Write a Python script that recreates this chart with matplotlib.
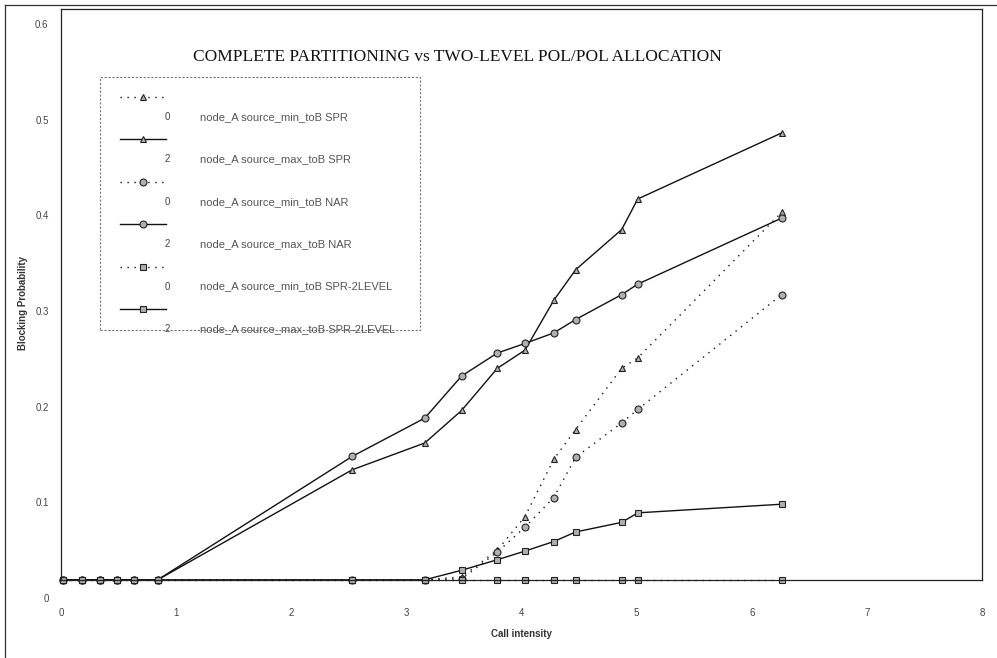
import matplotlib
matplotlib.use("Agg")
import matplotlib.pyplot as plt
from matplotlib.lines import Line2D
from matplotlib.patches import Rectangle

# ---------------- data ----------------
call_intensity = [0.02, 0.18, 0.34, 0.49, 0.63, 0.84, 2.53, 3.16, 3.48, 3.79,
                  4.03, 4.28, 4.47, 4.87, 5.01, 6.26]
B = 0.019  # floor value shown on the bottom axis line
spr_min = [B] * 8 + [0.022, 0.050, 0.085, 0.145, 0.176, 0.240, 0.251, 0.403]
spr_max = [B] * 6 + [0.134, 0.162, 0.196, 0.240, 0.259, 0.311, 0.343, 0.385, 0.417, 0.486]
nar_min = [B] * 8 + [0.020, 0.048, 0.074, 0.105, 0.147, 0.183, 0.197, 0.317]
nar_max = [B] * 6 + [0.148, 0.188, 0.232, 0.256, 0.266, 0.277, 0.291, 0.317, 0.328, 0.397]
lvl_min = [B] * 16
lvl_max = [B] * 8 + [0.029, 0.040, 0.049, 0.059, 0.069, 0.079, 0.089, 0.098]

legend_nums = ["0", "2", "0", "2", "0", "2"]
legend_labels = ["node_A source_min_toB SPR", "node_A source_max_toB SPR",
                 "node_A source_min_toB NAR", "node_A source_max_toB NAR",
                 "node_A source_min_toB SPR-2LEVEL", "node_A source_max_toB SPR-2LEVEL"]
x_ticks = [0, 1, 2, 3, 4, 5, 6, 7, 8]
y_ticks = [0, 0.1, 0.2, 0.3, 0.4, 0.5, 0.6]
y_tick_labels = ["0", "0.1", "0.2", "0.3", "0.4", "0.5", "0.6"]
title = "COMPLETE PARTITIONING vs TWO-LEVEL POL/POL ALLOCATION"

# ---------------- figure ----------------
W, H = 997, 658
fig = plt.figure(figsize=(W / 100, H / 100), dpi=100)
plt.rcParams['font.family'] = ['Liberation Sans', 'DejaVu Sans']


def px(x, y):
    return x / W, 1 - y / H


left, right, top, bottom = 61, 982, 9, 598
ax = fig.add_axes([left / W, 1 - bottom / H, (right - left) / W, (bottom - top) / H])
ytop = 0.6155
ax.set_xlim(0, 8)
ax.set_ylim(0, ytop)
ax.spines['bottom'].set_position(('data', B))
ax.spines['left'].set_bounds(B, ytop)
ax.spines['right'].set_bounds(B, ytop)
for s in ax.spines.values():
    s.set_color('#222222')
    s.set_linewidth(0.9)

mk = dict(markersize=5, markerfacecolor='#b0b0b0', markeredgecolor='#222222',
          markeredgewidth=0.8, color='#111111', clip_on=False)
dot = (0, (1, 4))
series = [
    (spr_min, '^', dot),
    (spr_max, '^', '-'),
    (nar_min, 'o', dot),
    (nar_max, 'o', '-'),
    (lvl_min, 's', dot),
    (lvl_max, 's', '-'),
]
for vals, m, ls in series:
    ax.plot(call_intensity, vals, marker=m, linestyle=ls, linewidth=1.0, **mk)

ax.set_xticks(x_ticks)
ax.set_yticks(y_ticks)
ax.set_yticklabels(y_tick_labels)
ax.tick_params(axis='both', length=0, labelsize=7, colors='#444444')
ax.tick_params(axis='x', pad=20)
ax.tick_params(axis='y', pad=9)
ax.set_xlabel("Call intensity", fontsize=7, fontweight='bold', color='#333333', labelpad=8)
ax.set_ylabel("Blocking Probability", fontsize=7, fontweight='bold', color='#333333', labelpad=5)

# title
fig.text(*px(457, 57), title, ha='center', va='center', fontsize=12.5,
         family=['Liberation Serif', 'DejaVu Serif'], color='#111111')

# legend (manual layout: handle row, then label row)
lx0, ly0, lx1, ly1 = 100, 77, 420, 330
x0, y0 = px(lx0, ly1)
x1, y1 = px(lx1, ly0)
fig.patches.append(Rectangle((x0, y0), x1 - x0, y1 - y0, transform=fig.transFigure,
                             fill=False, edgecolor='#777777', linestyle=(0, (2, 1.5)),
                             linewidth=0.8))
for i, ((vals, m, ls), num, lab) in enumerate(zip(series, legend_nums, legend_labels)):
    hy = 97 + 42.4 * i
    ty = hy + 20
    xa, ya = px(120, hy)
    xb, _ = px(166, hy)
    xm, _ = px(143, hy)
    fig.add_artist(Line2D([xa, xb], [ya, ya], transform=fig.transFigure,
                          linestyle=ls, color='#111111', linewidth=1.0))
    fig.add_artist(Line2D([xm], [ya], transform=fig.transFigure, marker=m,
                          markersize=5, markerfacecolor='#b0b0b0',
                          markeredgecolor='#222222', markeredgewidth=0.8))
    fig.text(*px(167, ty), num, ha='center', va='center', fontsize=7, color='#444444')
    fig.text(*px(200, ty), lab, ha='left', va='center', fontsize=8, color='#555555')

# outer frame lines
fig.add_artist(Line2D([px(5, 0)[0], px(5, 0)[0]], [px(0, 5)[1], px(0, 658)[1]],
                      transform=fig.transFigure, color='#333333', linewidth=0.9))
fig.add_artist(Line2D([px(5, 0)[0], px(997, 0)[0]], [px(0, 5)[1], px(0, 5)[1]],
                      transform=fig.transFigure, color='#333333', linewidth=0.9))

fig.savefig("out.png", dpi=100)
